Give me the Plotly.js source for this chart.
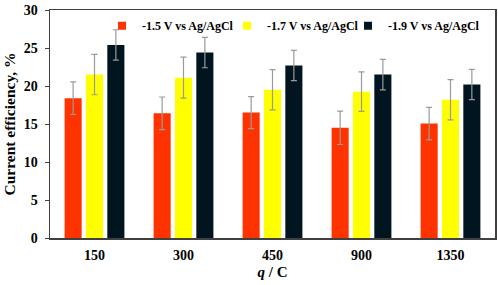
<!DOCTYPE html>
<html>
<head>
<meta charset="utf-8">
<script src="https://cdn.plot.ly/plotly-3.0.1.min.js"></script>
<style>html,body{margin:0;padding:0;background:#fff;}#chart{width:498px;height:285px;}</style>
</head>
<body>
<div id="chart"></div>
<script>
const categories = ['150', '300', '450', '900', '1350'];
const seriesNames = ['-1.5 V vs Ag/AgCl', '-1.7 V vs Ag/AgCl', '-1.9 V vs Ag/AgCl'];
const v15 = [18.4, 16.4, 16.5, 14.5, 15.05];
const v17 = [21.5, 21.1, 19.5, 19.25, 18.2];
const v19 = [25.4, 24.4, 22.7, 21.5, 20.2];
const e15 = [2.15, 2.15, 2.1, 2.2, 2.15];
const e17 = [2.65, 2.7, 2.65, 2.6, 2.65];
const e19 = [2.0, 2.0, 2.0, 2.0, 2.0];
const colors = ['#ff3300', '#ffff00', '#001520'];

const font = 'Liberation Serif, Times New Roman, serif';
const vals = [v15, v17, v19];
const errs = [e15, e17, e19];
const legendIds = ['legend', 'legend2', 'legend3'];
const legendX = [0.1169, 0.3978, 0.6697];
const traces = [];
for (let i = 0; i < 3; i++) {
  traces.push({
    type: 'bar', x: categories, y: vals[i], name: seriesNames[i],
    showlegend: false,
    marker: {color: colors[i], line: {width: 0}},
    error_y: {type: 'data', array: errs[i], visible: true, color: '#9a9a9a', thickness: 1.2, width: 3}
  });
}
for (let i = 0; i < 3; i++) {
  traces.push({
    type: 'scatter', mode: 'markers', x: [null], y: [null], name: seriesNames[i],
    legend: legendIds[i],
    marker: {symbol: 'square', size: 8, color: colors[i]}, hoverinfo: 'skip'
  });
}
const layout = {
  width: 498, height: 285,
  margin: {l: 50, r: 3, t: 10, b: 47},
  paper_bgcolor: '#fff', plot_bgcolor: '#fff',
  barmode: 'group', bargap: 0.28, bargroupgap: 0.2,
  font: {family: font, color: '#000'},
  showlegend: true,
  xaxis: {
    type: 'category', range: [-0.5, 4.5],
    showline: true, linecolor: '#404040', linewidth: 1.5, mirror: true,
    ticks: '', showgrid: false, ticklabelstandoff: 4,
    tickfont: {family: font, size: 14, color: '#000', weight: 'bold'},
    title: {text: '<i>q</i> / C', font: {family: font, size: 15, color: '#000', weight: 'bold'}, standoff: 4}
  },
  yaxis: {
    range: [0, 30], dtick: 5,
    showline: true, linecolor: '#404040', linewidth: 1.5, mirror: true,
    ticks: 'outside', ticklen: 4, tickcolor: '#404040', showgrid: false, zeroline: false,
    ticklabelstandoff: 4,
    tickfont: {family: font, size: 14, color: '#000', weight: 'bold'},
    title: {text: 'Current efficiency, %', font: {family: font, size: 15.5, color: '#000', weight: 'bold'}, standoff: 4}
  }
};
for (let i = 0; i < 3; i++) {
  layout[legendIds[i]] = {
    orientation: 'h', x: legendX[i], xanchor: 'left', y: 0.995, yanchor: 'top',
    font: {family: font, size: 12, color: '#000', weight: 'bold'},
    itemwidth: 30, bgcolor: 'rgba(0,0,0,0)'
  };
}
Plotly.newPlot('chart', traces, layout, {displayModeBar: false, staticPlot: true});
</script>
</body>
</html>
